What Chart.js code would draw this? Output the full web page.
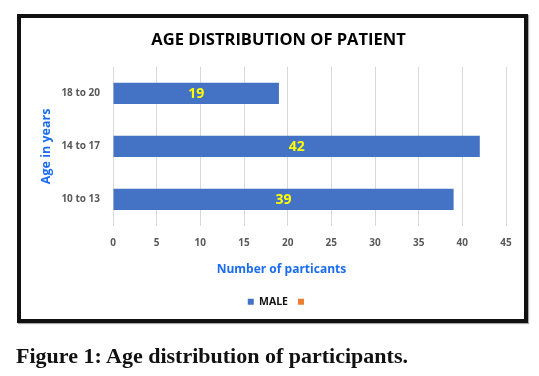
<!DOCTYPE html>
<html lang="en">
<head>
    <meta charset="UTF-8">
    <title>Age distribution of participants</title>
    <script src="https://cdn.jsdelivr.net/npm/chart.js"></script>
    <style>
        body { margin: 0; width: 539px; height: 376px; background: #fff; position: relative; overflow: hidden; }
        .frame {
            position: absolute; left: 17px; top: 14px; width: 511px; height: 309px;
            border: 4px solid #111; box-sizing: border-box; box-shadow: 1px 1px 1px #aaa;
        }
        #chartBox { position: absolute; left: 0; top: 0; width: 539px; height: 376px; }
        .caption {
            position: absolute; left: 16px; top: 345px; margin: 0;
            font-family: "Liberation Serif", "DejaVu Serif", serif; font-weight: bold;
            font-size: 22px; line-height: 22px; color: #111;
        }
    </style>
</head>
<body>
    <div class="frame"></div>
    <div id="chartBox"><canvas id="ageChart" width="539" height="376"></canvas></div>
    <p class="caption">Figure 1: Age distribution of participants.</p>

    <script>
        // data
        const ageGroups = ['18 to 20', '14 to 17', '10 to 13'];
        const maleCounts = [19, 42, 39];
        const otherCounts = []; // second (empty) series, shown only in legend
        const seriesNames = ['MALE', ''];

        const fontFamily = '"Open Sans", Lato, sans-serif';
        const axisBlue = '#1a6cf0';
        const tickGray = '#595959';

        // writes the value in the middle of each bar
        const barValues = {
            id: 'barValues',
            afterDatasetsDraw(chart) {
                const ctx = chart.ctx;
                const meta = chart.getDatasetMeta(0);
                ctx.save();
                ctx.fillStyle = '#ffff00';
                ctx.font = 'bold 14px ' + fontFamily;
                ctx.textAlign = 'center';
                ctx.textBaseline = 'middle';
                meta.data.forEach((bar, i) => {
                    const p = bar.getProps(['x', 'y', 'base'], true);
                    ctx.fillText(maleCounts[i], (p.x + p.base) / 2, p.y + 1);
                });
                ctx.restore();
            }
        };

        new Chart(document.getElementById('ageChart'), {
            type: 'bar',
            data: {
                labels: ageGroups,
                datasets: [
                    { label: seriesNames[0], data: maleCounts, backgroundColor: '#4472c4', borderWidth: 0 },
                    { label: seriesNames[1], data: otherCounts, backgroundColor: '#ed7d31', borderWidth: 0 }
                ]
            },
            options: {
                indexAxis: 'y',
                responsive: false,
                animation: false,
                grouped: false,
                barPercentage: 0.4,
                categoryPercentage: 1,
                layout: { padding: { top: 30, left: 51, right: 33, bottom: 59 } },
                plugins: {
                    title: {
                        display: true,
                        text: 'AGE DISTRIBUTION OF PATIENT',
                        color: '#000',
                        font: { family: fontFamily, size: 16.5, weight: 'bold' },
                        padding: { top: 0, bottom: 17 }
                    },
                    legend: {
                        position: 'bottom',
                        labels: {
                            boxWidth: 6, boxHeight: 6,
                            color: '#111',
                            font: { family: fontFamily, size: 10.5, weight: 'bold' }
                        }
                    },
                    tooltip: { enabled: false }
                },
                scales: {
                    x: {
                        min: 0, max: 45,
                        ticks: { stepSize: 5, padding: 11, color: tickGray, font: { family: fontFamily, size: 10, weight: 'bold' } },
                        grid: { color: '#d9d9d9', drawTicks: false },
                        border: { display: false },
                        title: {
                            display: true,
                            // trailing spaces pull the title left, like in the original
                            text: 'Number of particants' + ' '.repeat(18),
                            color: axisBlue,
                            font: { family: fontFamily, size: 12, weight: 'bold' },
                            padding: { top: 0, bottom: 10 }
                        },
                        afterFit: s => { s.height = 60.5; }
                    },
                    y: {
                        ticks: { padding: 13, color: tickGray, font: { family: fontFamily, size: 10, weight: 'bold' } },
                        grid: { display: false, drawTicks: false },
                        border: { display: false },
                        title: {
                            display: true,
                            text: 'Age in years',
                            color: axisBlue,
                            font: { family: fontFamily, size: 12.5, weight: 'bold' },
                            padding: { top: -12, bottom: 0 }
                        },
                        afterFit: s => { s.width = 62; }
                    }
                }
            },
            plugins: [barValues]
        });
    </script>
</body>
</html>
